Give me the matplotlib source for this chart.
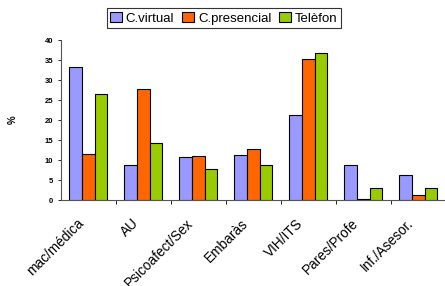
import numpy as np
from matplotlib import pyplot as plt

plt.rcParams['font.family'] = ['Liberation Sans', 'DejaVu Sans']

categories = ['mac/médica', 'AU', 'Psicoafect/Sex', 'Embaràs', 'VIH/ITS',
              'Pares/Profe', 'Inf./Asesor.']
series_names = ['C.virtual', 'C.presencial', 'Telèfon']
virtual = [33.2, 8.7, 10.7, 11.2, 21.2, 8.7, 6.2]
presencial = [11.6, 27.8, 11.0, 12.9, 35.3, 0.2, 1.2]
telefon = [26.5, 14.3, 7.8, 8.7, 36.8, 3.0, 3.0]
colors = ['#9999FF', '#FF6600', '#99CC00']

fig = plt.figure(figsize=(4.45, 2.86), dpi=100)
ax = fig.add_axes([0.137, 0.30, 0.865, 0.56])

x = np.arange(len(categories))
w = 0.23
for i, (vals, name, c) in enumerate(zip([virtual, presencial, telefon], series_names, colors)):
    ax.bar(x + (i - 1) * w, vals, w, color=c, edgecolor='black', linewidth=0.8,
           label=name, zorder=3)

ax.set_xlim(-0.5, len(categories) - 0.5)
ax.set_ylim(0, 40)
ax.set_yticks(range(0, 41, 5))
ax.tick_params(axis='y', labelsize=5.5, length=2.5, width=0.6, pad=3)
for t in ax.get_yticklabels():
    t.set_fontweight('bold')

ax.set_xticks(np.arange(0.5, len(categories) - 0.5, 1))
ax.set_xticklabels([])
ax.tick_params(axis='x', which='major', length=3, width=0.6)
ax.set_xticks(x - 0.13, minor=True)
ax.set_xticklabels(categories, minor=True, rotation=45, ha='right',
                   va='center', rotation_mode='anchor', fontsize=9.8)
ax.tick_params(axis='x', which='minor', length=0, pad=15)

for s in ['top', 'right']:
    ax.spines[s].set_visible(False)
for s in ['left', 'bottom']:
    ax.spines[s].set_color('#555555')
    ax.spines[s].set_linewidth(0.8)

fig.text(0.028, 0.58, '%', rotation=90, fontsize=7, fontweight='bold',
         ha='center', va='center')

leg = fig.legend(loc='center', bbox_to_anchor=(0.503, 0.937), ncol=3,
                 fontsize=9.5, frameon=True, fancybox=False, handlelength=0.9,
                 handleheight=0.9, handletextpad=0.3, columnspacing=0.6,
                 borderpad=0.25, borderaxespad=0)
leg.get_frame().set_edgecolor('black')
leg.get_frame().set_linewidth(0.8)

plt.savefig('out.png', dpi=100)
